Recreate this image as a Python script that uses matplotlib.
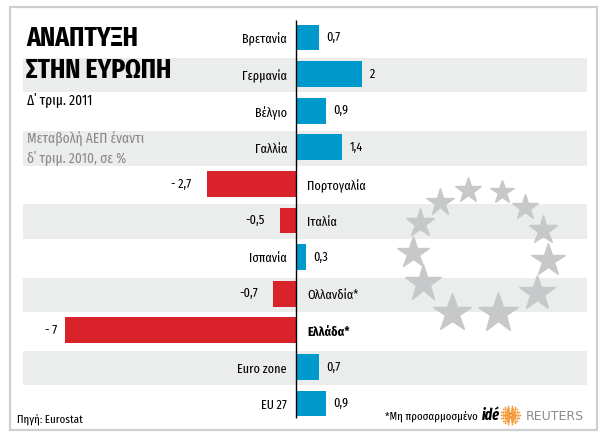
import numpy as np
import matplotlib.pyplot as plt
from matplotlib.patches import Rectangle
from matplotlib.transforms import Affine2D

countries = ["Βρετανία", "Γερμανία", "Βέλγιο", "Γαλλία", "Πορτογαλία", "Ιταλία",
             "Ισπανία", "Ολλανδία*", "Ελλάδα*", "Euro zone", "EU 27"]
values = [0.7, 2, 0.9, 1.4, -2.7, -0.5, 0.3, -0.7, -7, 0.7, 0.9]
value_labels = ["0,7", "2", "0,9", "1,4", "- 2,7", "-0,5", "0,3", "-0,7", "- 7", "0,7", "0,9"]

BLUE = "#0099cc"
RED = "#d9222a"
BAND = "#ebecec"
STAR = "#c7c8ca"
W, H = 606, 440

plt.rcParams["font.family"] = ["Fira Sans Extra Condensed", "Fira Sans Condensed",
                               "Roboto Condensed", "Liberation Sans Narrow", "DejaVu Sans"]

fig = plt.figure(figsize=(W / 100, H / 100), dpi=100)
# pixel coords (origin top-left) -> figure
px = Affine2D().scale(1 / W, -1 / H).translate(0, 1) + fig.transFigure

ax = fig.add_axes([0, 0, 1, 1])
x0, ppu = 296, 33.0      # zero line pixel, pixels per % point
y0, pitch = 37.5, 36.6   # first row centre, row pitch
ax.set_xlim(-x0 / ppu, (W - x0) / ppu)
ax.set_ylim((H - y0) / pitch, -y0 / pitch)
ax.axis("off")

n = len(countries)
rows = np.arange(n)

# alternate grey bands
for i in rows[1::2]:
    ax.axhspan(i - 0.44, i + 0.5, xmin=23 / W, xmax=587 / W, color=BAND, lw=0, zorder=0)

colors = [BLUE if v > 0 else RED for v in values]
ax.barh(rows, values, height=0.71, color=colors, zorder=3)
ax.vlines(0, -0.48, 10.4, color="black", lw=1, zorder=4)

for i, (name, v, lab) in enumerate(zip(countries, values, value_labels)):
    weight = "bold" if name.startswith("Ελλάδα") else "normal"
    if v > 0:
        ax.annotate(name, (0, i), xytext=(-6.5, -1.5), textcoords="offset points",
                    ha="right", va="center", fontsize=9.5, zorder=5)
        ax.annotate(lab, (v, i), xytext=(5.5, 0), textcoords="offset points",
                    ha="left", va="center", fontsize=9.5, zorder=5)
    else:
        ax.annotate(name, (0, i), xytext=(8, -1.5), textcoords="offset points",
                    ha="left", va="center", fontsize=9.5, weight=weight, zorder=5)
        off = -6 if v < -5 else -11
        ax.annotate(lab, (v, i), xytext=(off, 0), textcoords="offset points",
                    ha="right", va="center", fontsize=9.5, zorder=5)

# EU star ring (decoration)
star_px = [(468, 190), (502, 192), (440, 202), (525, 207), (420, 223), (543, 230),
           (413, 253), (548, 260), (423, 283), (537, 293), (452, 313), (498, 313)]
star_ms = [19, 17.5, 20.5, 19, 21, 21, 24, 25, 28, 26.5, 29, 30]
for (sx, sy), ms in zip(star_px, star_ms):
    fig.lines.append(plt.Line2D([sx], [sy], marker="*", ms=ms, color=STAR, mec=STAR,
                                lw=0, transform=px, zorder=2))

# outer frame
fig.patches.append(Rectangle((10, 7), 587, 423, fill=False, ec="#cfcfcf", lw=1.6,
                             transform=px, zorder=1))

# titles
fig.text(26, 46.5, "ΑΝΑΠΤΥΞΗ", transform=px, fontsize=20, weight="bold", va="baseline")
fig.text(26, 77.5, "ΣΤΗΝ ΕΥΡΩΠΗ", transform=px, fontsize=20, weight="bold", va="baseline")
fig.text(27, 105.5, "Δ΄ τριμ. 2011", transform=px, fontsize=10.5, va="baseline")
fig.text(27, 143, "Μεταβολή ΑΕΠ έναντι", transform=px, fontsize=10.5, color="#8a8a8a", va="baseline")
fig.text(27, 163, "δ΄ τριμ. 2010, σε %", transform=px, fontsize=10.5, color="#8a8a8a", va="baseline")

# footer
fig.text(17, 423, "Πηγή: Eurostat", transform=px, fontsize=8.5, va="baseline")
fig.text(385, 420, "*Μη προσαρμοσμένο", transform=px, fontsize=8.5, va="baseline")
fig.text(482, 420, "idé", transform=px, fontsize=11, weight="bold", style="italic",
         va="baseline")
fig.text(526, 420, "REUTERS", transform=px, fontsize=9, color="#8c8c8c",
         family="DejaVu Sans", va="baseline")

# reuters dotted logo
cx, cy = 510, 415
for r, k, s in [(2.5, 6, 2.5), (5, 10, 2.2), (7.5, 14, 1.8), (9.5, 18, 1.2)]:
    a = np.linspace(0, 2 * np.pi, k, endpoint=False)
    fig.lines.append(plt.Line2D(cx + r * np.cos(a), cy + r * np.sin(a), marker="o", ms=s,
                                color="#f29a3a", mec="none", lw=0, transform=px))

fig.savefig("out.png", dpi=100)
